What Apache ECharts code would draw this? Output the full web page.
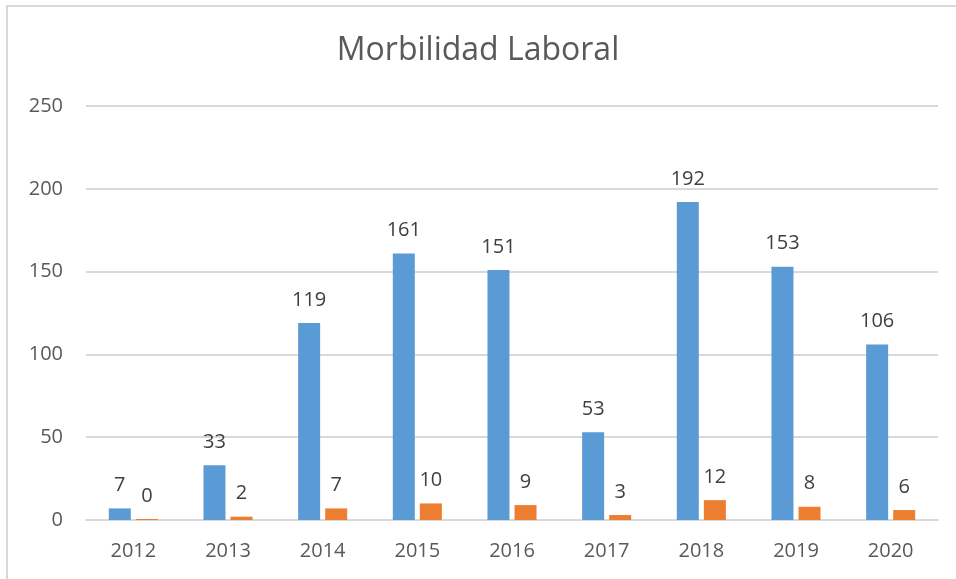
<!DOCTYPE html>
<html>
<head>
<meta charset="utf-8">
<script src="https://cdn.jsdelivr.net/npm/echarts@6/dist/echarts.min.js"></script>
<style>
  html, body { margin: 0; padding: 0; background: #fff; }
  #frame {
    position: absolute; left: 6px; top: 5px; width: 950px; height: 574px;
    border-top: 2px solid #d9d9d9; border-left: 2px solid #d9d9d9;
  }
  #chart { position: absolute; left: 0; top: 0; width: 956px; height: 579px; }
</style>
</head>
<body>
<div id="frame"></div>
<div id="chart"></div>
<script>
var years = ['2012', '2013', '2014', '2015', '2016', '2017', '2018', '2019', '2020'];
var serieA = [7, 33, 119, 161, 151, 53, 192, 153, 106];
var serieB = [0, 2, 7, 10, 9, 3, 12, 8, 6];
var yTicks = [0, 50, 100, 150, 200, 250];

var fontFam = '"Open Sans", "Noto Sans", sans-serif';

var chart = echarts.init(document.getElementById('chart'));

var labelStyle = {
  show: true,
  position: 'top',
  distance: 13,
  color: '#404040',
  fontSize: 20,
  fontFamily: fontFam
};

var option = {
  backgroundColor: 'transparent',
  animation: false,
  title: {
    text: 'Morbilidad Laboral',
    left: 'center',
    top: 30,
    textStyle: {
      color: '#595959',
      fontSize: 32,
      fontWeight: 'normal',
      fontFamily: fontFam
    }
  },
  grid: {
    left: 86,
    right: 18,
    top: 106,
    bottom: 59,
    containLabel: false
  },
  xAxis: {
    type: 'category',
    data: years,
    axisLine: { lineStyle: { color: '#d9d9d9', width: 2 } },
    axisTick: { show: false },
    axisLabel: {
      color: '#595959',
      fontSize: 20,
      margin: 21,
      fontFamily: fontFam
    }
  },
  yAxis: {
    type: 'value',
    min: yTicks[0],
    max: yTicks[yTicks.length - 1],
    interval: 50,
    axisLine: { show: false },
    axisTick: { show: false },
    axisLabel: {
      color: '#595959',
      fontSize: 20,
      margin: 23,
      fontFamily: fontFam
    },
    splitLine: { lineStyle: { color: '#d9d9d9', width: 2 } }
  },
  series: [
    {
      name: 'A',
      type: 'bar',
      data: serieA,
      barWidth: 22,
      barGap: '23%',
      itemStyle: { color: '#5b9bd5' },
      label: labelStyle
    },
    {
      name: 'B',
      type: 'bar',
      data: serieB,
      barWidth: 22,
      barMinHeight: 1,
      itemStyle: { color: '#ed7d31' },
      label: labelStyle
    }
  ]
};

chart.setOption(option);
</script>
</body>
</html>
